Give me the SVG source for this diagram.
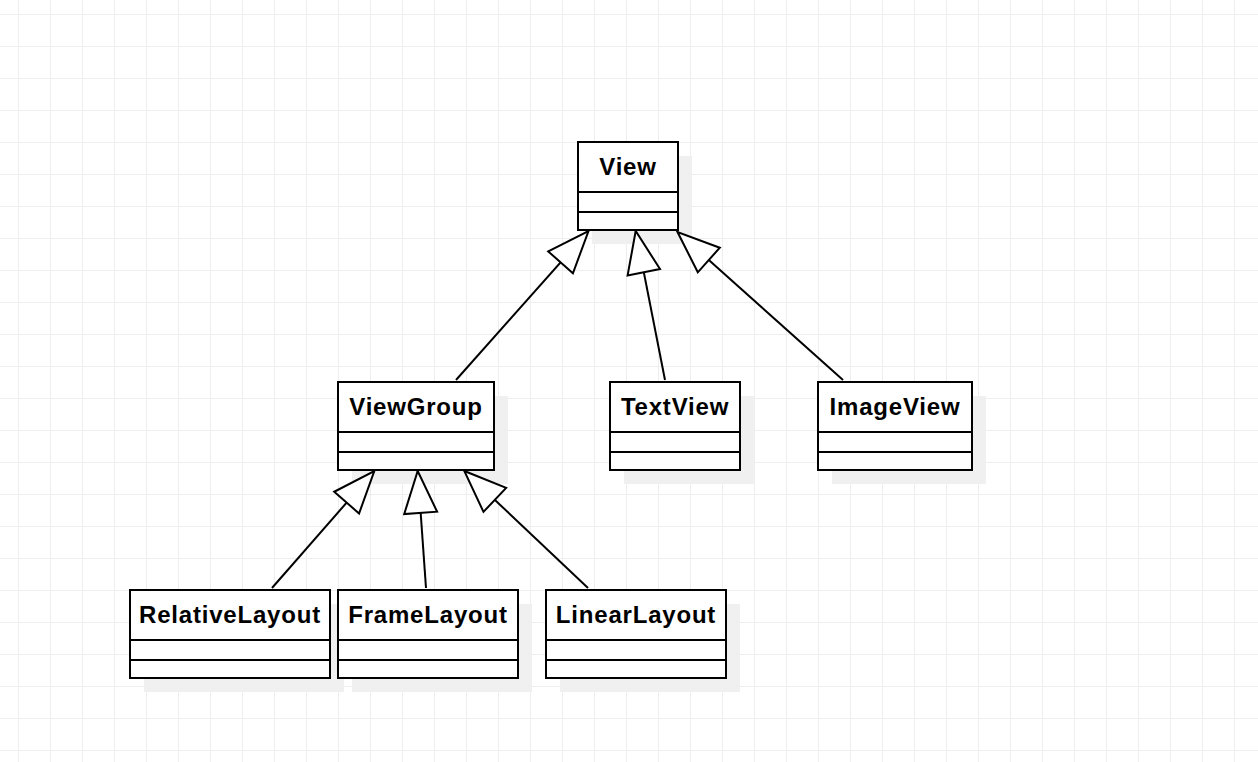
<svg xmlns="http://www.w3.org/2000/svg" width="1258" height="762" viewBox="0 0 1258 762">
<style>
.shadow{fill:#f0f0f0;stroke:none}
.box{fill:#ffffff;stroke:#000000;stroke-width:2}
.div{stroke:#000000;stroke-width:2;fill:none}
.lbl{font-family:"Liberation Sans",Arial,sans-serif;font-weight:bold;font-size:24px;letter-spacing:0.8px;text-anchor:middle;fill:#000000}
.edge{stroke:#000000;stroke-width:2;fill:none;marker-end:url(#tri)}
</style>
<defs>
<pattern id="grid" x="18" y="14" width="32" height="32" patternUnits="userSpaceOnUse">
<path d="M0.5,0 V32 M0,0.5 H32" stroke="#eeeeee" stroke-width="1" fill="none"/>
</pattern>
<marker id="tri" markerUnits="userSpaceOnUse" viewBox="-2 -19 46 38" refX="42" refY="0" markerWidth="46" markerHeight="38" orient="auto">
<path d="M0,-16.5 L42,0 L0,16.5 Z" fill="#ffffff" stroke="#000000" stroke-width="2"/>
</marker>
</defs>
<rect x="0" y="0" width="1258" height="762" fill="#ffffff"/>
<rect x="0" y="0" width="1258" height="762" fill="url(#grid)"/>

<g id="View">
<rect class="shadow" x="592" y="156" width="100" height="88"/>
<rect class="box" x="578" y="142" width="100" height="88"/>
<path class="div" d="M578,192 H678 M578,212 H678"/>
<text class="lbl" x="628" y="175">View</text>
</g>

<g id="ViewGroup">
<rect class="shadow" x="352" y="396" width="156" height="88"/>
<rect class="box" x="338" y="382" width="156" height="88"/>
<path class="div" d="M338,432 H494 M338,452 H494"/>
<text class="lbl" x="416" y="415">ViewGroup</text>
</g>

<g id="TextView">
<rect class="shadow" x="624" y="396" width="130" height="88"/>
<rect class="box" x="610" y="382" width="130" height="88"/>
<path class="div" d="M610,432 H740 M610,452 H740"/>
<text class="lbl" x="675" y="415">TextView</text>
</g>

<g id="ImageView">
<rect class="shadow" x="832" y="396" width="154" height="88"/>
<rect class="box" x="818" y="382" width="154" height="88"/>
<path class="div" d="M818,432 H972 M818,452 H972"/>
<text class="lbl" x="895" y="415">ImageView</text>
</g>

<g id="RelativeLayout">
<rect class="shadow" x="144" y="604" width="200" height="88"/>
<rect class="box" x="130" y="590" width="200" height="88"/>
<path class="div" d="M130,640 H330 M130,660 H330"/>
<text class="lbl" x="230" y="623">RelativeLayout</text>
</g>

<g id="FrameLayout">
<rect class="shadow" x="352" y="604" width="180" height="88"/>
<rect class="box" x="338" y="590" width="180" height="88"/>
<path class="div" d="M338,640 H518 M338,660 H518"/>
<text class="lbl" x="428" y="623">FrameLayout</text>
</g>

<g id="LinearLayout">
<rect class="shadow" x="560" y="604" width="180" height="88"/>
<rect class="box" x="546" y="590" width="180" height="88"/>
<path class="div" d="M546,640 H726 M546,660 H726"/>
<text class="lbl" x="636" y="623">LinearLayout</text>
</g>

<g id="connectors">
<line class="edge" x1="456" y1="380" x2="588.5" y2="231"/>
<line class="edge" x1="665" y1="380" x2="635.7" y2="231"/>
<line class="edge" x1="843" y1="380" x2="677.5" y2="232"/>
<line class="edge" x1="272" y1="588" x2="374.3" y2="471"/>
<line class="edge" x1="426" y1="588" x2="417.7" y2="471"/>
<line class="edge" x1="588" y1="588" x2="464.3" y2="471"/>
</g>
</svg>
